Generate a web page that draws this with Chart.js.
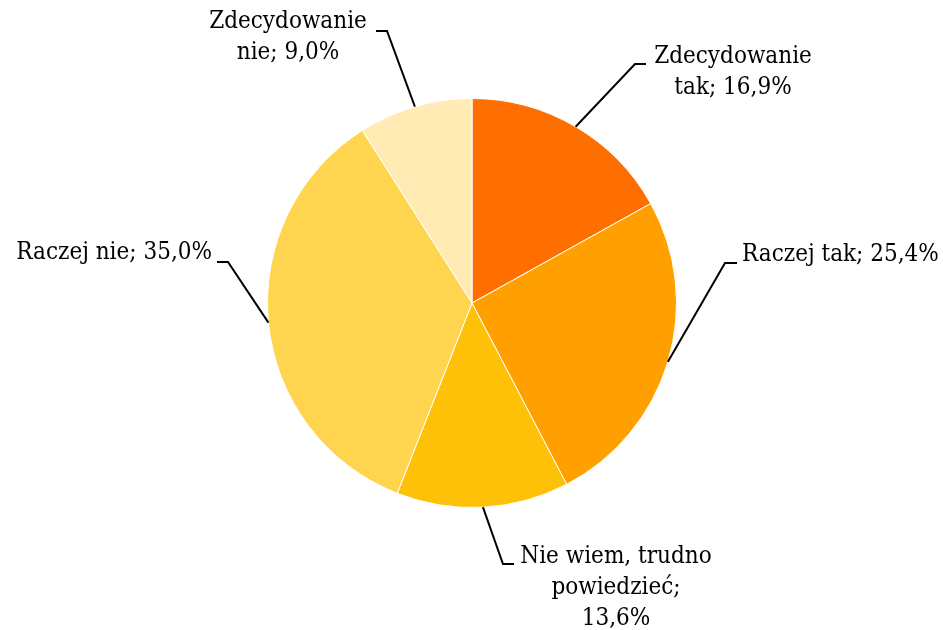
<!DOCTYPE html>
<html>
<head>
<meta charset="utf-8">
<script src="https://cdn.jsdelivr.net/npm/chart.js@4"></script>
<style>
  html, body { margin: 0; padding: 0; background: #fff; }
  #wrap { width: 943px; height: 630px; }
</style>
</head>
<body>
<div id="wrap"><canvas id="myChart" width="943" height="630"></canvas></div>
<script>
// data
var categories = ["Zdecydowanie tak", "Raczej tak", "Nie wiem, trudno powiedzieć", "Raczej nie", "Zdecydowanie nie"];
var values = [16.9, 25.4, 13.6, 35.0, 9.0];
var labelLines = [
    ["Zdecydowanie", "tak; 16,9%"],
    ["Raczej tak; 25,4%"],
    ["Nie wiem, trudno", "powiedzieć;", "13,6%"],
    ["Raczej nie; 35,0%"],
    ["Zdecydowanie", "nie; 9,0%"]
];
var colors = ["#FF6F00", "#FFA000", "#FFC107", "#FFD54F", "#FFEBB3"];

// where each label sits (elbow of leader line, end of short horizontal, text anchor)
var labelLayout = [
    { ex: 635, ey: 64, hx: 646, tx: 733, ty: 57, align: "center" },
    { ex: 725, ey: 263, hx: 737, tx: 742, ty: 255, align: "left" },
    { ex: 503, ey: 564, hx: 514, tx: 616, ty: 557, align: "center" },
    { ex: 228, ey: 262, hx: 217, tx: 212, ty: 253, align: "right" },
    { ex: 387, ey: 31, hx: 376, tx: 288, ty: 22, align: "center" }
];
var FONT = '24px "DejaVu Serif Condensed", "Liberation Serif", serif';
var LINE_H = 31;

var leaderLabels = {
    id: "leaderLabels",
    afterDraw: function (chart) {
        var ctx = chart.ctx;
        var meta = chart.getDatasetMeta(0);
        ctx.save();
        ctx.font = FONT;
        ctx.fillStyle = "#000";
        ctx.strokeStyle = "#000";
        ctx.lineWidth = 2;
        ctx.textBaseline = "middle";
        meta.data.forEach(function (arc, i) {
            var p = arc.getProps(["x", "y", "startAngle", "endAngle", "outerRadius"], true);
            var a = (p.startAngle + p.endAngle) / 2;
            var sx = p.x + Math.cos(a) * p.outerRadius;
            var sy = p.y + Math.sin(a) * p.outerRadius;
            var L = labelLayout[i];
            ctx.beginPath();
            ctx.moveTo(sx, sy);
            ctx.lineTo(L.ex, L.ey);
            ctx.lineTo(L.hx, L.ey);
            ctx.stroke();
            ctx.textAlign = L.align;
            labelLines[i].forEach(function (s, k) {
                ctx.fillText(s, L.tx, L.ty + k * LINE_H);
            });
        });
        ctx.restore();
    }
};

new Chart(document.getElementById("myChart").getContext("2d"), {
    type: "pie",
    data: {
        labels: categories,
        datasets: [{
            data: values,
            backgroundColor: colors,
            borderColor: "#ffffff",
            borderWidth: 1
        }]
    },
    options: {
        responsive: false,
        animation: false,
        layout: { padding: { left: 267, right: 266, top: 98, bottom: 122 } },
        plugins: {
            legend: { display: false },
            tooltip: { enabled: false }
        }
    },
    plugins: [leaderLabels]
});
</script>
</body>
</html>
